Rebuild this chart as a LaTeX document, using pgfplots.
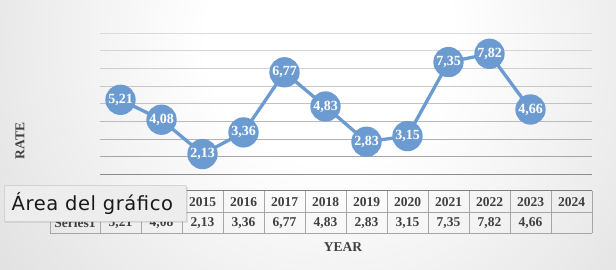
\documentclass[border=0pt]{standalone}
\usepackage{pgfplots}
\pgfplotsset{compat=1.18}
\usepackage{fontspec}
\setmainfont{Liberation Serif}
\newfontfamily\tipfont[LetterSpace=3.0]{DejaVu Sans}
\definecolor{ser}{HTML}{6C9BD2}
\definecolor{txt}{HTML}{404040}
\definecolor{bgA}{gray}{0.776}
\definecolor{bgB}{gray}{0.64}
\definecolor{tbl}{HTML}{A6A6A6}
\definecolor{tbltop}{HTML}{7F7F7F}
\pgfdeclareradialshading{bgshade}{\pgfpointorigin}{color(0bp)=(white); color(7.7bp)=(white); color(41.3bp)=(bgA); color(61.6bp)=(bgB); color(100bp)=(bgB)}
\pgfplotstableread{
x y l
0.5 5.21 5,21
1.5 4.08 4,08
2.5 2.13 2,13
3.5 3.36 3,36
4.5 6.77 6,77
5.5 4.83 4,83
6.5 2.83 2,83
7.5 3.15 3,15
8.5 7.35 7,35
9.5 7.82 7,82
10.5 4.66 4,66
}\rates
\begin{document}
\begin{tikzpicture}[x=1pt,y=1pt]
\useasboundingbox (0,0) rectangle (616,270);
\begin{scope}
\clip (0,0) rectangle (616,270);
\shade[shading=bgshade] (-70,-170) rectangle (730,630);
\end{scope}
\begin{axis}[
  at={(100pt,96pt)}, anchor=south west,
  scale only axis, width=492pt, height=141pt,
  xmin=0, xmax=12, ymin=1, ymax=9,
  axis line style={draw=none},
  major tick length=0pt,
  ytick=\empty,
  xtick={0.5,1.5,...,11.5},
  xticklabels={{2013\\5,21},{2014\\4,08},{2015\\2,13},{2016\\3,36},{2017\\6,77},{2018\\4,83},{2019\\2,83},{2020\\3,15},{2021\\7,35},{2022\\7,82},{2023\\4,66},{2024\\\phantom{0}}},
  xticklabel style={font=\bfseries\fontsize{13.5}{20}\selectfont, text=txt, align=center, anchor=north, inner sep=0pt, yshift=-23.5pt},
  clip=false,
]
\draw[black!14] (axis cs:0,9) -- (axis cs:12,9);
\draw[black!17] (axis cs:0,8) -- (axis cs:12,8);
\draw[black!19] (axis cs:0,7) -- (axis cs:12,7);
\draw[black!22] (axis cs:0,6) -- (axis cs:12,6);
\draw[black!24] (axis cs:0,5) -- (axis cs:12,5);
\draw[black!27] (axis cs:0,4) -- (axis cs:12,4);
\draw[black!31] (axis cs:0,3) -- (axis cs:12,3);
\draw[black!35] (axis cs:0,2) -- (axis cs:12,2);
\draw[black!45] (axis cs:0,1) -- (axis cs:12,1);
\addplot[ser, line width=3.3pt, line join=round, mark=*, mark size=13.5pt,
  mark options={fill=ser, draw=none},
  nodes near coords, point meta=explicit symbolic,
  every node near coord/.append style={font=\bfseries\fontsize{14}{14}\selectfont, text=white, anchor=center, inner sep=0pt}]
  table[x=x, y=y, meta=l] {\rates};
\end{axis}
% data table grid
\draw[tbl, line width=0.8pt] (50,58) -- (592,58);
\draw[tbl, line width=0.8pt] (50,37) -- (592,37);
\draw[tbl, line width=0.8pt] (50,58) -- (50,37);
\foreach \k in {0,...,12} { \draw[tbl, line width=0.8pt] ({100+41*\k},79) -- ({100+41*\k},37); }
\draw[tbltop, line width=1pt] (100,79) -- (592,79);
\node[font=\bfseries\fontsize{13.5}{16}\selectfont, text=txt] at (75,47.5) {Series1};
% axis titles
\node[font=\bfseries\fontsize{13.5}{16}\selectfont, text=txt, rotate=90] at (20,129) {RATE};
\node[font=\bfseries\fontsize{13.5}{16}\selectfont, text=txt] at (343,23) {YEAR};
% tooltip
\fill[black, opacity=0.08] (5,47) rectangle (188,83);
\node[draw=black!22, fill=black!7, line width=0.6pt, rounded corners=1pt, minimum width=182pt, minimum height=36pt, anchor=south west, inner sep=0pt] at (4,48) {};
\node[anchor=base west, inner sep=0pt, font=\tipfont\fontsize{19.5}{24}\selectfont, text=black!90] at (11.5,59.5) {Área del gráfico};
\end{tikzpicture}
\end{document}
